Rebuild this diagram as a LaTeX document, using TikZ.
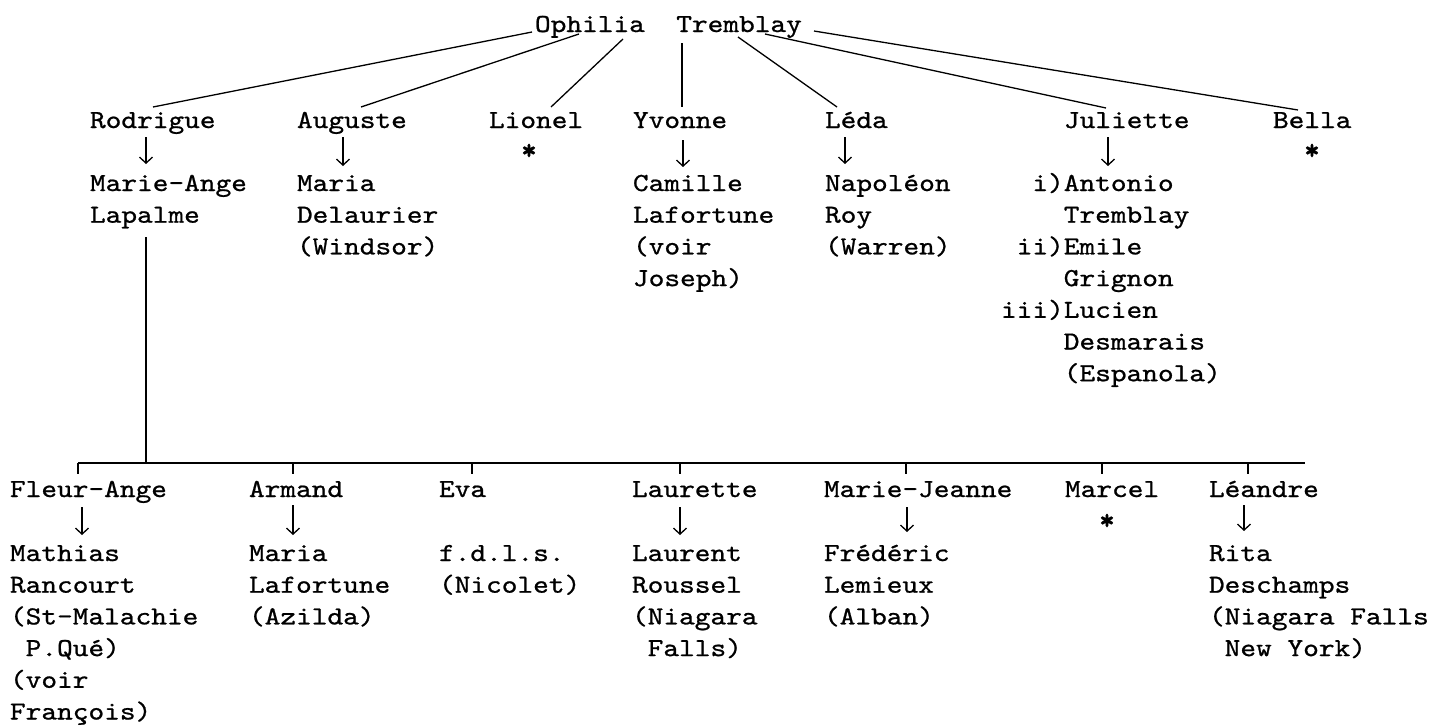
\documentclass[tikz,border=0pt]{standalone}
\usepackage{graphicx}
\usepackage{fontspec}
\newfontfamily\twfont{lmmono10-regular.otf}[RawFeature={embolden=0.8}]
\newfontfamily\starfont{lmmono10-regular.otf}[RawFeature={embolden=4}]
\usetikzlibrary{arrows.meta}
\newcommand\twcol[1]{\scalebox{1.15}[1]{\vtop{\halign{##\hfil\cr#1\crcr}}}}
\tikzset{
  txt/.style={anchor=base west, inner sep=0pt, outer sep=0pt, font=\twfont\fontsize{26}{31.7}\selectfont},
  starmark/.style={anchor=base, inner sep=0pt, outer sep=0pt, font=\starfont\fontsize{28}{28}\selectfont},
  link/.style={line width=1.3pt, black},
  arr/.style={line width=1.3pt, -{Straight Barb[length=6pt,width=13pt,line width=1.3pt]}},
}
\begin{document}
\begin{tikzpicture}[x=1pt,y=-1pt]
\useasboundingbox[fill=white] (0,0) rectangle (1452,726);

% root
\node[txt] (root) at (535,32) {\twcol{Ophilia\ \ Tremblay}};

% children
\node[txt] (rod) at (90,128) {\twcol{Rodrigue}};
\node[txt] (aug) at (297,128) {\twcol{Auguste}};
\node[txt] (lio) at (489,128) {\twcol{Lionel}};
\node[txt] (yvo) at (633,128) {\twcol{Yvonne}};
\node[txt] (led) at (825,128) {\twcol{Léda}};
\node[txt] (jul) at (1064,128) {\twcol{Juliette}};
\node[txt] (bel) at (1273,128) {\twcol{Bella}};

% spouses
\node[txt] (rodS) at (90,191) {\twcol{Marie-Ange\cr Lapalme}};
\node[txt] (augS) at (297,191) {\twcol{Maria\cr Delaurier\cr (Windsor)}};
\node[txt] (yvoS) at (633,191) {\twcol{Camille\cr Lafortune\cr (voir\cr Joseph)}};
\node[txt] (ledS) at (825,191) {\twcol{Napoléon\cr Roy\cr (Warren)}};
\node[txt] (julS) at (1001,191) {\twcol{\ \ i)Antonio\cr\ \ \ \ Tremblay\cr\ ii)Emile\cr\ \ \ \ Grignon\cr iii)Lucien\cr\ \ \ \ Desmarais\cr\ \ \ \ (Espanola)}};

\node[starmark] (lioX) at (529,159) {*};
\node[starmark] (belX) at (1312,159) {*};

% connectors from root
\coordinate (r1) at (532,32);  \coordinate (c1) at (153,107);
\coordinate (r2) at (579,34);  \coordinate (c2) at (361,107);
\coordinate (r3) at (623,39);  \coordinate (c3) at (551,107);
\coordinate (r4) at (682,43);  \coordinate (c4) at (682,107);
\coordinate (r5) at (738,37);  \coordinate (c5) at (837,107);
\coordinate (r6) at (765,34);  \coordinate (c6) at (1106,108);
\coordinate (r7) at (814,31);  \coordinate (c7) at (1298,110);
\draw[link] (r1) -- (c1);
\draw[link] (r2) -- (c2);
\draw[link] (r3) -- (c3);
\draw[link] (r4) -- (c4);
\draw[link] (r5) -- (c5);
\draw[link] (r6) -- (c6);
\draw[link] (r7) -- (c7);

% marriage arrows, generation 2
\coordinate (a1) at (146,137); \coordinate (b1) at (146,164);
\coordinate (a2) at (343,137); \coordinate (b2) at (343,166);
\coordinate (a3) at (683,140); \coordinate (b3) at (683,167);
\coordinate (a4) at (845,137); \coordinate (b4) at (845,164);
\coordinate (a5) at (1108,137); \coordinate (b5) at (1108,166);
\draw[arr] (a1) -- (b1);
\draw[arr] (a2) -- (b2);
\draw[arr] (a3) -- (b3);
\draw[arr] (a4) -- (b4);
\draw[arr] (a5) -- (b5);

% descent from Rodrigue & Marie-Ange
\coordinate (lapB) at (146,237);
\coordinate (lapJ) at (146,463);
\draw[link] (lapB) -- (lapJ);
\coordinate (barL) at (78,463);
\coordinate (barR) at (1305,463);
\draw[link] (barL) -- (barR);
\foreach \tx in {78,293,472,680,906,1102,1248}{
  \draw[link] (\tx,463) -- (\tx,474);
}

% generation 3
\node[txt] (fle) at (10,497) {\twcol{Fleur-Ange}};
\node[txt] (arm) at (249,497) {\twcol{Armand}};
\node[txt] (eva) at (439,497) {\twcol{Eva}};
\node[txt] (lau) at (632,497) {\twcol{Laurette}};
\node[txt] (mjn) at (824,497) {\twcol{Marie-Jeanne}};
\node[txt] (mcl) at (1065,497) {\twcol{Marcel}};
\node[txt] (lea) at (1209,497) {\twcol{Léandre}};

\node[txt] (fleS) at (10,561) {\twcol{Mathias\cr Rancourt\cr (St-Malachie\cr\ P.Qué)\cr (voir\cr François)}};
\node[txt] (armS) at (249,561) {\twcol{Maria\cr Lafortune\cr (Azilda)}};
\node[txt] (evaS) at (439,561) {\twcol{f.d.l.s.\cr (Nicolet)}};
\node[txt] (lauS) at (632,561) {\twcol{Laurent\cr Roussel\cr (Niagara\cr\ Falls)}};
\node[txt] (mjnS) at (824,561) {\twcol{Frédéric\cr Lemieux\cr (Alban)}};
\node[txt] (leaS) at (1209,561) {\twcol{Rita\cr Deschamps\cr (Niagara Falls\cr\ New York)}};

\node[starmark] (mclX) at (1107,529) {*};

\coordinate (a6) at (82,507);   \coordinate (b6) at (82,535);
\coordinate (a7) at (293,505);  \coordinate (b7) at (293,535);
\coordinate (a8) at (680,507);  \coordinate (b8) at (680,535);
\coordinate (a9) at (907,507);  \coordinate (b9) at (907,532);
\coordinate (a10) at (1244,505); \coordinate (b10) at (1244,531);
\draw[arr] (a6) -- (b6);
\draw[arr] (a7) -- (b7);
\draw[arr] (a8) -- (b8);
\draw[arr] (a9) -- (b9);
\draw[arr] (a10) -- (b10);
\end{tikzpicture}
\end{document}
